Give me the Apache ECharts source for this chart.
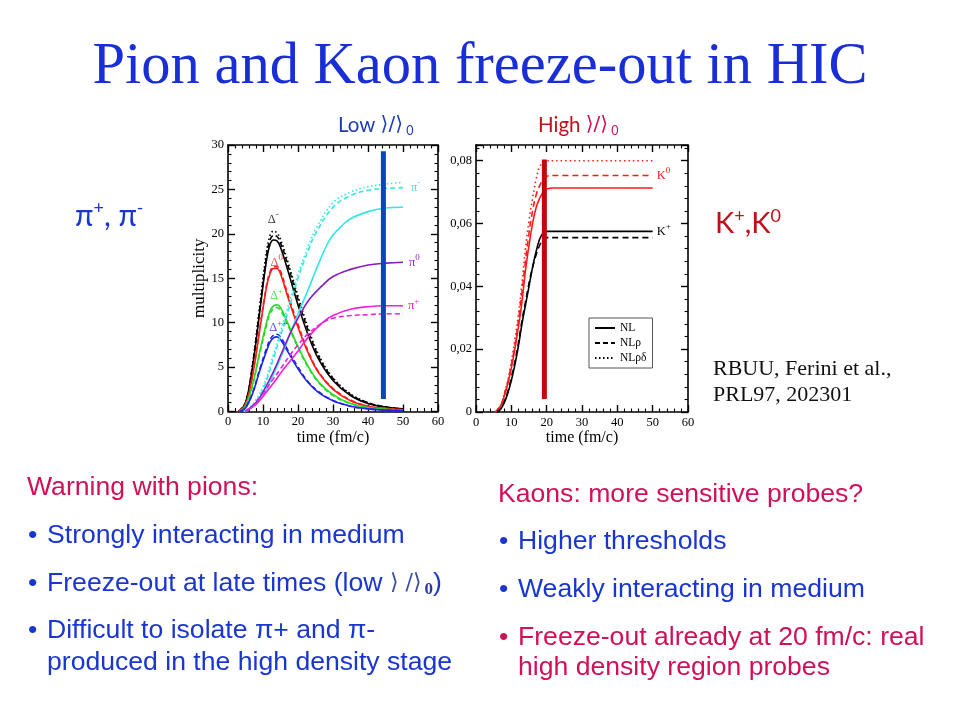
<!DOCTYPE html>
<html>
<head>
<meta charset="utf-8">
<script src="https://cdn.jsdelivr.net/npm/echarts@6/dist/echarts.min.js"></script>
<style>html,body{margin:0;padding:0;background:#fff}#c{width:960px;height:720px}</style>
</head>
<body>
<div id="c"></div>
<script>
// ---------- data: left chart (multiplicity vs time) ----------
var dmSolid  = [[3,0],[5,1],[7,5],[9,11],[11,17],[12,18.8],[13,19.3],[14,19.2],[15,18.5],[17,16],[20,12],[23,8.5],[26,5.8],[30,3.5],[35,1.8],[40,0.9],[45,0.5],[50,0.3]];
var dmDash   = [[3,0],[5,1],[7,5.2],[9,11.4],[11,17.5],[12,19.3],[13,19.8],[14,19.7],[15,19.0],[17,16.6],[20,12.6],[23,9.0],[26,6.1],[30,3.7],[35,1.9],[40,1.0],[45,0.5],[50,0.3]];
var dmDot    = [[3,0],[5,1],[7,5.3],[9,11.7],[11,18],[12,19.8],[13,20.3],[14,20.1],[15,19.4],[17,17],[20,13],[23,9.3],[26,6.3],[30,3.8],[35,2.0],[40,1.0],[45,0.5],[50,0.3]];
var d0Solid  = [[3,0],[5,0.8],[7,4],[9,9],[11,14],[12,15.5],[13,16.1],[14,16.1],[15,15.5],[17,13],[20,9.5],[23,6.5],[26,4.3],[30,2.5],[35,1.2],[40,0.6],[45,0.35],[50,0.2]];
var d0Dash   = [[3,0],[5,0.8],[7,4.1],[9,9.2],[11,14.2],[12,15.7],[13,16.3],[14,16.3],[15,15.8],[17,13.3],[20,9.8],[23,6.7],[26,4.4],[30,2.6],[35,1.3],[40,0.6],[45,0.35],[50,0.2]];
var dpSolid  = [[3.5,0],[5,0.6],[7,3],[9,6.6],[11,10],[12,11.3],[13,11.9],[14,12],[15,11.7],[17,10],[20,7.3],[23,5],[26,3.3],[30,1.9],[35,0.9],[40,0.45],[45,0.25],[50,0.15]];
var dpDash   = [[3.5,0],[5,0.6],[7,2.9],[9,6.4],[11,9.7],[12,11],[13,11.6],[14,11.7],[15,11.4],[17,9.8],[20,7.2],[23,4.9],[26,3.2],[30,1.8],[35,0.9],[40,0.45],[45,0.25],[50,0.15]];
var dppSolid = [[3.5,0],[5,0.4],[7,2],[9,4.5],[11,6.8],[12,7.8],[13,8.3],[14,8.4],[15,8.1],[17,6.8],[20,4.8],[23,3.2],[26,2.1],[30,1.2],[35,0.6],[40,0.3],[45,0.15],[50,0.1]];
var dppDash  = [[3.5,0],[5,0.4],[7,2.1],[9,4.7],[11,7.1],[12,8.1],[13,8.6],[14,8.7],[15,8.4],[17,7.0],[20,5.0],[23,3.3],[26,2.2],[30,1.25],[35,0.6],[40,0.3],[45,0.15],[50,0.1]];
var pmSolid  = [[5,0],[7,0.5],[10,1.8],[13,4.2],[15,6],[18,9],[20,11],[23,13.8],[25,15.8],[29,19.3],[32,20.7],[35,21.7],[40,22.5],[45,22.9],[50,23.0]];
var pmDash   = [[4.5,0],[7,0.7],[10,2.5],[13,6],[15,8.5],[17.7,12],[20,15],[23,18.2],[25,20],[30,23],[35,24.3],[40,24.9],[45,25.1],[50,25.2]];
var pmDot    = [[4.5,0],[7,0.8],[10,2.8],[13,6.4],[15,9],[17.7,12.6],[20,15.5],[23,18.7],[25,20.5],[30,23.5],[35,24.7],[40,25.3],[45,25.6],[50,25.8]];
var p0Solid  = [[5,0],[8,1],[10,2.2],[13,4.5],[15,6.3],[18,9],[20,10.5],[23,12.5],[27,14.2],[30,15.2],[35,16],[40,16.5],[45,16.7],[50,16.8]];
var ppSolid  = [[5,0],[8,0.8],[10,1.7],[13,3.2],[15,4.3],[18,5.8],[20,6.8],[23,8.4],[27,10],[30,10.8],[35,11.5],[40,11.8],[45,11.9],[50,11.9]];
var ppDash   = [[5,0],[8,0.9],[10,2],[13,3.7],[15,4.8],[18,6.5],[20,7.5],[23,8.8],[27,10],[30,10.5],[35,10.8],[40,10.9],[45,11],[50,11]];
var lowBar   = [[44.4,1.4],[44.4,29.3]];

// ---------- data: right chart (kaon yields vs time) ----------
var k0Solid  = [[5.5,0],[7,0.002],[8,0.005],[9,0.009],[10,0.014],[11,0.02],[12,0.027],[13,0.035],[14,0.045],[15,0.053],[16,0.06],[17,0.065],[18,0.068],[19,0.070],[20,0.071],[22,0.0713],[50,0.0713]];
var k0Dash   = [[5.5,0],[7,0.002],[8,0.0055],[9,0.0095],[10,0.015],[11,0.021],[12,0.029],[13,0.038],[14,0.048],[15,0.057],[16,0.064],[17,0.069],[18,0.072],[19,0.074],[20,0.075],[22,0.0753],[50,0.0753]];
var k0Dot    = [[5.5,0],[7,0.002],[8,0.006],[9,0.010],[10,0.016],[11,0.023],[12,0.031],[13,0.041],[14,0.052],[15,0.061],[16,0.068],[17,0.074],[18,0.078],[19,0.0795],[20,0.08],[22,0.08],[50,0.08]];
var kpSolid  = [[6,0],[7,0.001],[8,0.003],[9,0.006],[10,0.010],[11,0.015],[12,0.021],[13,0.028],[14,0.034],[15,0.040],[16,0.046],[17,0.051],[18,0.055],[19,0.057],[20,0.0575],[22,0.0575],[50,0.0575]];
var kpDash   = [[6,0],[7,0.001],[8,0.0032],[9,0.0065],[10,0.011],[11,0.016],[12,0.022],[13,0.029],[14,0.035],[15,0.041],[16,0.046],[17,0.050],[18,0.053],[19,0.055],[20,0.0555],[22,0.0555],[50,0.0555]];
var highBar  = [[19.35,0.0041],[19.35,0.0804]];

var legendNames = ['NL', 'NL\u03c1', 'NL\u03c1\u03b4'];
var deltaLabels = [
  {sym:'\u0394', sup:'-',  x:12.9, y:21.6, color:'#000'},
  {sym:'\u0394', sup:'0',  x:13.9, y:16.8, color:'#ff1a1a'},
  {sym:'\u0394', sup:'+',  x:13.9, y:13.0, color:'#22dd22'},
  {sym:'\u0394', sup:'++', x:14.4, y:9.4,  color:'#1a1aff'}
];

var chart = echarts.init(document.getElementById('c'), null, {renderer:'canvas'});

var serif = 'Liberation Serif';
var CYAN='#33e6e6', PURPLE='#8a1ac0', MAG='#ee22dd', RED='#ff1a1a', GREEN='#22dd22', BLUE='#2222ee';

function ln(name, data, color, type, xi, yi, extra) {
  var s = {
    type:'line', name:name, data:data, xAxisIndex:xi, yAxisIndex:yi,
    smooth:0.4, showSymbol:false, symbol:'none', silent:true, animation:false,
    lineStyle:{color:color, width:1.6, type:type}, itemStyle:{color:color}, z:3
  };
  if (extra) for (var k in extra) s[k]=extra[k];
  return s;
}
function endLab(sym, sup, color, dist) {
  return {show:true, formatter:'{a|'+sym+'}{s|'+sup+'}', distance:dist||4,
    rich:{a:{fontFamily:serif, fontSize:12.5, color:color}, s:{fontFamily:serif, fontSize:9, color:color, padding:[0,0,9,0]}}};
}

function axisCommon(extra) {
  var a = {
    axisLine:{show:true, onZero:false, lineStyle:{color:'#000', width:1.6}},
    axisTick:{show:true, inside:true, length:7, lineStyle:{color:'#000', width:1.4}},
    minorTick:{show:true, splitNumber:5, length:3.5, lineStyle:{color:'#000', width:1.1}},
    splitLine:{show:false},
    axisLabel:{fontFamily:serif, fontSize:12.5, color:'#000', margin:4}
  };
  for (var k in extra) a[k]=extra[k];
  return a;
}

var grids = [
  {left:228, top:145, width:210, height:266.5, show:false},
  {left:476, top:145, width:212, height:267, show:false}
];
var xName = {fontFamily:serif, fontSize:16, color:'#000'};

var xAxes = [
  axisCommon({type:'value', gridIndex:0, min:0, max:60, interval:10, position:'bottom',
    name:'time (fm/c)', nameLocation:'middle', nameGap:16, nameTextStyle:xName}),
  axisCommon({type:'value', gridIndex:0, min:0, max:60, interval:10, position:'top', axisLabel:{show:false}}),
  axisCommon({type:'value', gridIndex:1, min:0, max:60, interval:10, position:'bottom',
    name:'time (fm/c)', nameLocation:'middle', nameGap:16, nameTextStyle:xName}),
  axisCommon({type:'value', gridIndex:1, min:0, max:60, interval:10, position:'top', axisLabel:{show:false}})
];
var yAxes = [
  axisCommon({type:'value', gridIndex:0, min:0, max:30, interval:5, position:'left',
    name:'multiplicity', nameLocation:'middle', nameGap:16, nameTextStyle:{fontFamily:serif, fontSize:17, color:'#000'}}),
  axisCommon({type:'value', gridIndex:0, min:0, max:30, interval:5, position:'right', axisLabel:{show:false}}),
  axisCommon({type:'value', gridIndex:1, min:0, max:0.085, interval:0.02, position:'left',
    axisLabel:{fontFamily:serif, fontSize:12.5, color:'#000', margin:4, showMaxLabel:false,
      formatter:function(v){ return v===0 ? '0' : v.toFixed(2).replace('.', ','); }}}),
  axisCommon({type:'value', gridIndex:1, min:0, max:0.085, interval:0.02, position:'right', axisLabel:{show:false}})
];

var series = [
  ln('dmSolid', dmSolid, '#000', 'solid', 0, 0),
  ln('dmDash', dmDash, '#000', [5,3], 0, 0),
  ln('dmDot', dmDot, '#000', [1.5,2.5], 0, 0),
  ln('d0Solid', d0Solid, RED, 'solid', 0, 0),
  ln('d0Dash', d0Dash, RED, [5,3], 0, 0),
  ln('dpSolid', dpSolid, GREEN, 'solid', 0, 0),
  ln('dpDash', dpDash, GREEN, [5,3], 0, 0),
  ln('dppSolid', dppSolid, BLUE, 'solid', 0, 0),
  ln('dppDash', dppDash, BLUE, [5,3], 0, 0),
  ln('pmSolid', pmSolid, CYAN, 'solid', 0, 0),
  ln('pmDash', pmDash, CYAN, [5,3], 0, 0, {endLabel:endLab('\u03c0','-',CYAN,8)}),
  ln('pmDot', pmDot, CYAN, [1.5,2.5], 0, 0),
  ln('p0Solid', p0Solid, PURPLE, 'solid', 0, 0, {endLabel:endLab('\u03c0','0','#9922cc',6)}),
  ln('ppSolid', ppSolid, MAG, 'solid', 0, 0, {endLabel:endLab('\u03c0','+',MAG,5)}),
  ln('ppDash', ppDash, MAG, [5,3], 0, 0),
  {type:'line', name:'lowBar', data:lowBar, xAxisIndex:0, yAxisIndex:0, showSymbol:false, symbol:'none', silent:true,
    lineStyle:{color:'#1040c8', width:5}, z:5, animation:false},
  {type:'scatter', name:'deltaLabels', xAxisIndex:0, yAxisIndex:0, symbolSize:0, silent:true, z:6, animation:false,
    data: deltaLabels.map(function(d){
      return {value:[d.x, d.y], label:{show:true, position:'inside', formatter:'{a|'+d.sym+'}{s|'+d.sup+'}',
        rich:{a:{fontFamily:serif, fontSize:12.5, color:d.color}, s:{fontFamily:serif, fontSize:9, color:d.color, padding:[0,0,9,0]}}}};
    })},

  ln('k0Solid', k0Solid, RED, 'solid', 2, 2),
  ln('k0Dash', k0Dash, RED, [6,4], 2, 2, {endLabel:endLab('K','0',RED)}),
  ln('k0Dot', k0Dot, RED, [1.5,3], 2, 2),
  ln('kpSolid', kpSolid, '#000', 'solid', 2, 2, {endLabel:endLab('K','+','#000')}),
  ln('kpDash', kpDash, '#000', [6,4], 2, 2),
  {type:'line', name:'highBar', data:highBar, xAxisIndex:2, yAxisIndex:2, showSymbol:false, symbol:'none', silent:true,
    lineStyle:{color:'#c00a0a', width:5}, z:5, animation:false},
  // legend carriers
  ln(legendNames[0], [], '#000', 'solid', 2, 2),
  ln(legendNames[1], [], '#000', [5,3], 2, 2),
  ln(legendNames[2], [], '#000', [1.5,2.5], 2, 2)
];

function mid(baseline, fs){ return baseline - 0.35*fs; }
var BLUE_T = '#1a36d0', RED_T = '#d0105a', DRED = '#c0101a';
var sans = 'Liberation Sans';
var FS = 26.6;
function txt(x, baseline, fs, text, color, font, extra) {
  var st = {text:text, x:0, y:0, fill:color, font: fs+'px "'+(font||sans)+'"', verticalAlign:'middle'};
  if (extra) for (var k in extra) st[k]=extra[k];
  return {type:'text', x:x, y:mid(baseline, fs), style:st, silent:true, z:10};
}
function rs(family, size, color, extra) {
  var r = {fontFamily:family, fontSize:size, fill:color, color:color};
  if (extra) for (var k in extra) r[k]=extra[k];
  return r;
}
var ANG = '\u27e9';

var graphics = [
  txt(480, 88, 58.5, 'Pion and Kaon freeze-out in HIC', '#1a2ed6', serif, {align:'center'}),
  {type:'text', x:338, y:125, silent:true, style:{
    text:'{a|Low }{b|'+ANG+'/'+ANG+'}{c| 0}', verticalAlign:'middle',
    rich:{a:rs('Lato', 20.5, '#1f3cb4'), b:rs('DejaVu Sans', 20, '#1f3cb4'), c:rs('Lato', 12.5, '#1f3cb4', {padding:[11,0,0,0]})}}},
  {type:'text', x:538, y:125, silent:true, style:{
    text:'{a|High }{b|'+ANG+'/'+ANG+'}{c| 0}', verticalAlign:'middle',
    rich:{a:rs('Lato', 20.5, DRED), b:rs('DejaVu Sans', 20, '#cc1155'), c:rs('Lato', 12.5, '#cc1155', {padding:[11,0,0,0]})}}},
  {type:'text', x:75, y:216, silent:true, style:{
    text:'{a|\u03c0}{s|+}{a|, \u03c0}{s|-}', verticalAlign:'middle',
    rich:{a:rs('Lato', 30, BLUE_T), s:rs('Lato', 18, BLUE_T, {padding:[0,0,16,0]})}}},
  {type:'text', x:715, y:224, silent:true, style:{
    text:'{a|K}{s|+}{a|,K}{s|0}', verticalAlign:'middle',
    rich:{a:rs('Lato', 29, DRED), s:rs('Lato', 18, DRED, {padding:[0,0,16,0]})}}},
  txt(713, 377, 22, 'RBUU, Ferini et al.,', '#111', serif),
  txt(713, 403, 22, 'PRL97, 202301', '#111', serif),

  txt(27, 497, FS, 'Warning with pions:', RED_T),
  txt(28, 545, FS, '\u2022', BLUE_T),
  txt(47, 545, FS, 'Strongly interacting in medium', BLUE_T),
  txt(28, 593, FS, '\u2022', BLUE_T),
  {type:'text', x:47, y:mid(593,FS), silent:true, style:{
    text:'{a|Freeze-out at late times (low }{b|'+ANG+' /'+ANG+'}{c|0}{a|)}', verticalAlign:'middle',
    rich:{a:rs(sans, FS, BLUE_T), b:rs('DejaVu Serif', 22, '#3a4aa8'),
          c:rs(serif, 17, '#2a3aa0', {fontWeight:'bold', padding:[12,0,0,3]})}}},
  txt(28, 640, FS, '\u2022', BLUE_T),
  txt(47, 640, FS, 'Difficult to isolate \u03c0+ and \u03c0-', BLUE_T),
  txt(47, 672, FS, 'produced in the high density stage', BLUE_T),

  txt(498, 504, FS, 'Kaons: more sensitive probes?', RED_T),
  txt(499, 551, FS, '\u2022', BLUE_T),
  txt(518, 551, FS, 'Higher thresholds', BLUE_T),
  txt(499, 599, FS, '\u2022', BLUE_T),
  txt(518, 599, FS, 'Weakly interacting in medium', BLUE_T),
  txt(499, 647, FS, '\u2022', RED_T),
  txt(518, 647, FS, 'Freeze-out already at 20 fm/c: real', RED_T),
  txt(518, 677, FS, 'high density region probes', RED_T)
];

chart.setOption({
  backgroundColor:'#fff',
  animation:false,
  grid: grids,
  xAxis: xAxes,
  yAxis: yAxes,
  legend: {
    data: legendNames, orient:'vertical', left:589, top:318, itemWidth:20, itemHeight:8, itemGap:3,
    padding:[4,6,4,5], borderColor:'#555', borderWidth:1, backgroundColor:'#fff',
    itemStyle:{opacity:0},
    textStyle:{fontFamily:serif, fontSize:11.5, color:'#000'}, selectedMode:false
  },
  series: series,
  graphic: graphics
});
</script>
</body>
</html>
